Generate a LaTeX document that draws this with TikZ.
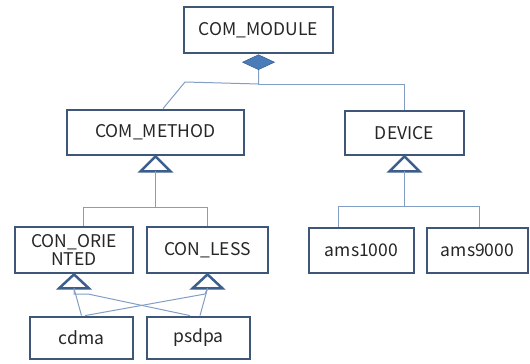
\documentclass[tikz,border=0pt]{standalone}
\usepackage{fontspec}
\setmainfont{Noto Sans CJK KR}
\usetikzlibrary{shapes.geometric}

\definecolor{boxc}{RGB}{62,86,120}
\definecolor{tric}{RGB}{60,94,140}
\definecolor{linkc}{RGB}{130,158,196}
\definecolor{diac}{RGB}{74,124,186}

\begin{document}
\begin{tikzpicture}[x=1pt,y=-1pt,
  cls/.style={draw=boxc, line width=2.8pt, fill=white, inner sep=1pt,
    font=\fontsize{17.5}{19}\selectfont, text=black!85, align=center},
  link/.style={draw=linkc, line width=1pt},
  gen/.style={draw=tric, line width=2.5pt, fill=white, line join=miter},
]
\useasboundingbox (0,0) rectangle (530,364);

% classes
\node[cls, minimum width=149, minimum height=46] (mod) at (258.5,30) {COM\_MODULE};
\node[cls, minimum width=177, minimum height=45] (meth) at (155.5,132.5) {COM\_METHOD};
\node[cls, minimum width=119, minimum height=44] (dev) at (404.5,133) {DEVICE};
\node[cls, minimum width=118, minimum height=46] (cono) at (74,250) {CON\_ORIE\\[-1pt]NTED};
\node[cls, minimum width=121, minimum height=46] (conl) at (207.5,250) {CON\_LESS};
\node[cls, minimum width=103, minimum height=42] (cdma) at (81.5,338) {cdma};
\node[cls, minimum width=103, minimum height=42] (psdpa) at (198.5,338) {psdpa};
\node[cls, minimum width=105, minimum height=45] (a1000) at (361.5,250.5) {ams1000};
\node[cls, minimum width=101, minimum height=45] (a9000) at (477.5,250.5) {ams9000};

% aggregation diamond
\node[diamond, draw=diac!80!black, fill=diac, line width=0.6pt, inner sep=0pt,
  minimum width=32, minimum height=15, anchor=north] (dia) at (mod.south) {};

% composition connectors
\draw[link] (dia.south) -- ++(0,14) -- (185,82) -- (meth.north -| 163,0);
\draw[link] (dia.south) -- ++(0,14) -| (dev.north);

% generalization triangles
\draw[gen] (meth.south) -- ++(-15,15) -- ++(30,0) -- cycle;
\coordinate (tm) at ([yshift=-15pt]meth.south);
\draw[gen] (dev.south) -- ++(-15,15) -- ++(30,0) -- cycle;
\coordinate (td) at ([yshift=-15pt]dev.south);
\draw[gen] (cono.south) -- ++(-15,14) -- ++(30,0) -- cycle;
\coordinate (tco) at ([yshift=-14pt]cono.south);
\draw[gen] (conl.south) -- ++(-15,14) -- ++(30,0) -- cycle;
\coordinate (tcl) at ([yshift=-14pt]conl.south);

% COM_METHOD subtree
\draw[link] (tm) -- ++(0,36) coordinate (jm);
\draw[link] (jm) -| (cono.north -| 83,0);
\draw[link] (jm) -| (conl.north -| 207,0);

% DEVICE subtree
\draw[link] (td) -- ++(0,35) coordinate (jd);
\draw[link] (jd) -| (a1000.north -| 338,0);
\draw[link] (jd) -| (a9000.north -| 479,0);

% multiple inheritance
\draw[link] (cdma.north) -- (tco);
\draw[link] (psdpa.north -| 190,0) -- (88,294) -- (74,294) -- (tco);
\draw[link] (cdma.north -| 85,0) -- (205,294) -- (tcl);
\draw[link] (psdpa.north -| 200,0) -- (tcl);
\end{tikzpicture}
\end{document}
